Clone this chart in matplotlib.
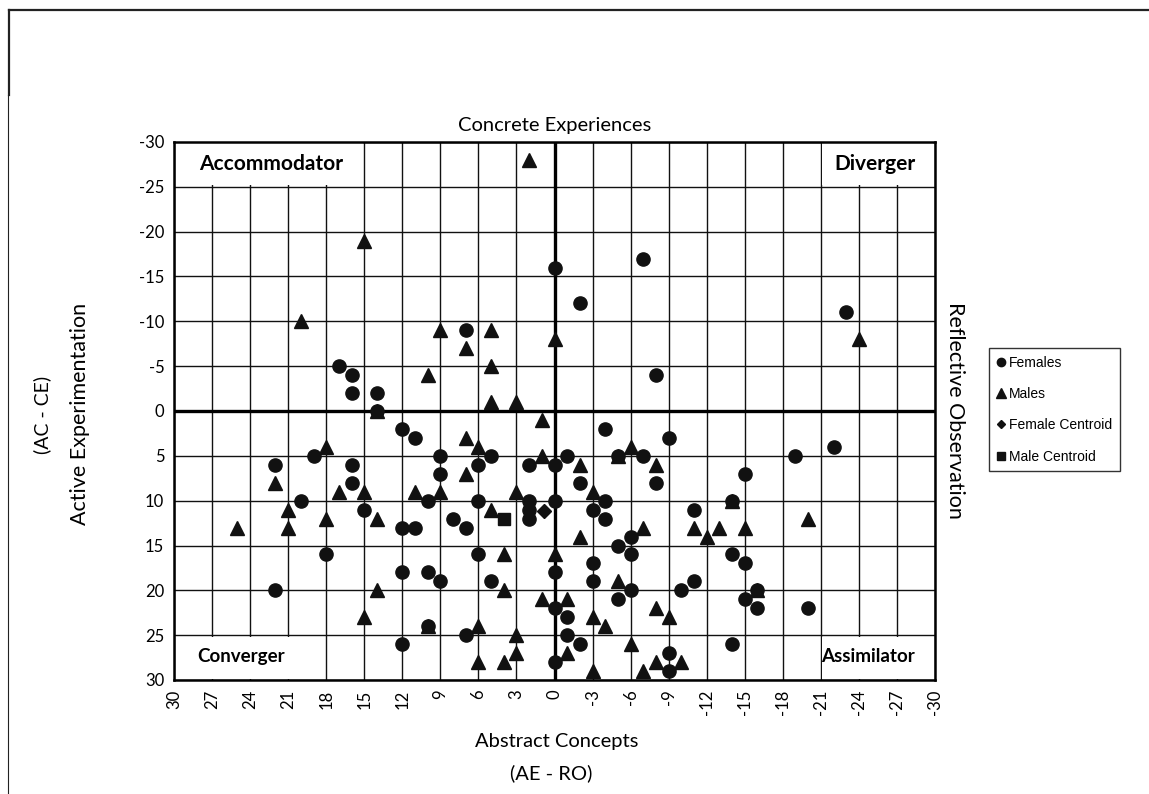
import matplotlib
matplotlib.use("Agg")
import matplotlib.pyplot as plt
from matplotlib.patches import Rectangle
from matplotlib.lines import Line2D

# Females (AE-RO, AC-CE)
female_x = [0, -7, -2, -23, 7, -8, 17, 16, 16, 14, 14, 12, 11, 5, 6, 9, 9, 19, 22, 16,
            16, 20, 15, 18, 22, 10, 12, 11, 8, 7, 6, 2, 0, 2, 2, 2, 0, 6, 12, 10,
            9, 5, 0, 0, 10, 7, 12, 0, -4, -9, -1, -2, -7, -8, -19, -22, -15, -4, -3, -4,
            -14, -11, -6, -5, -6, -3, -3, -14, -15, -10, -11, -6, -5, -1, -1, -2, -9, -9, -15, -16,
            -16, -20, -14, -5]
female_y = [-16, -17, -12, -11, -9, -4, -5, -4, -2, -2, 0, 2, 3, 5, 6, 5, 7, 5, 6, 6,
            8, 10, 11, 16, 20, 10, 13, 13, 12, 13, 10, 6, 6, 10, 11, 12, 10, 16, 18, 18,
            19, 19, 22, 18, 24, 25, 26, 28, 2, 3, 5, 8, 5, 8, 5, 4, 7, 10, 11, 12,
            10, 11, 14, 15, 16, 17, 19, 16, 17, 20, 19, 20, 21, 23, 25, 26, 27, 29, 21, 22,
            20, 22, 26, 5]

# Males
male_x = [2, 15, 20, 9, 5, 7, 0, 5, 10, 5, 3, 1, 14, 7, 6, 7, 18, 22, 17, 15,
          21, 21, 25, 18, 14, 15, 14, 11, 9, 5, 3, 1, 4, 4, 1, 0, 10, 6, 3, 3,
          4, 6, -24, -2, -5, -6, -8, -3, -14, -11, -13, -12, -15, -20, -2, -7, -5, -1, -3, -4,
          -1, -3, -6, -7, -8, -9, -8, -10, -16]
male_y = [-28, -19, -10, -9, -9, -7, -8, -5, -4, -1, -1, 1, 0, 3, 4, 7, 4, 8, 9, 9,
          11, 13, 13, 12, 12, 23, 20, 9, 9, 11, 9, 5, 16, 20, 21, 16, 24, 24, 25, 27,
          28, 28, -8, 6, 5, 4, 6, 9, 10, 13, 13, 14, 13, 12, 14, 13, 19, 21, 23, 24,
          27, 29, 26, 29, 22, 23, 28, 28, 20]

female_centroid_x = [0.8]
female_centroid_y = [11.2]
male_centroid_x = [4.0]
male_centroid_y = [12.0]

x_ticks = list(range(30, -31, -3))
y_ticks = list(range(-30, 31, 5))

plt.rcParams['font.family'] = ['Lato', 'DejaVu Sans']
plt.rcParams['axes.unicode_minus'] = False

W, H = 1149, 794
fig = plt.figure(figsize=(W / 100, H / 100), dpi=100)
ax = fig.add_axes([174 / W, 1 - 680 / H, 761 / W, 538 / H])
ax.set_xlim(30, -30)
ax.set_ylim(30, -30)
ax.set_xticks(x_ticks)
ax.set_yticks(y_ticks)
ax.set_xticklabels([str(v) for v in x_ticks], rotation=90)
ax.tick_params(length=0, labelsize=12, pad=7)
ax.grid(True, color='#111111', linewidth=1.0)
ax.set_axisbelow(True)
for s in ax.spines.values():
    s.set_linewidth(1.8)
ax.axhline(0, color='black', lw=2.4, zorder=1.5)
ax.axvline(0, color='black', lw=2.4, zorder=1.5)

# white boxes behind the quadrant names
for x0, x1, y0, y1 in [(30, 15, -30, -25), (-21, -30, -30, -25),
                       (30, 18, 25, 30), (-21, -30, 25, 30)]:
    lo, hi = min(x0, x1), max(x0, x1)
    ax.add_patch(Rectangle((lo + 0.12, y0 + 0.15), hi - lo - 0.24, y1 - y0 - 0.3,
                           facecolor='white', edgecolor='none', zorder=1))

ax.text(28.0, -27.5, 'Accommodator', fontsize=15, fontweight='bold', va='center', zorder=3)
ax.text(-22.1, -27.5, 'Diverger', fontsize=15, fontweight='bold', va='center', zorder=3)
ax.text(28.2, 27.4, 'Converger', fontsize=13.5, fontweight='bold', va='center', zorder=3)
ax.text(-21.0, 27.4, 'Assimilator', fontsize=13.5, fontweight='bold', va='center', zorder=3)

ax.plot(female_x, female_y, 'o', color='#111111', ms=9.5, ls='none', zorder=4)
ax.plot(male_x, male_y, '^', color='#111111', ms=10, ls='none', zorder=4)
ax.plot(female_centroid_x, female_centroid_y, 'D', color='#111111', ms=7, ls='none', zorder=5)
ax.plot(male_centroid_x, male_centroid_y, 's', color='#111111', ms=8, ls='none', zorder=5)

fig.text(555 / W, 1 - 126 / H, 'Concrete Experiences', fontsize=14.5, ha='center', va='center')
fig.text(557 / W, 1 - 741 / H, 'Abstract Concepts', fontsize=14.5, ha='center', va='center')
fig.text(551 / W, 1 - 773 / H, '(AE - RO)', fontsize=14.5, ha='center', va='center')
fig.text(80 / W, 1 - 414 / H, 'Active Experimentation', fontsize=15.5, rotation=90,
         ha='center', va='center')
fig.text(42 / W, 1 - 415 / H, '(AC - CE)', fontsize=14, rotation=90, ha='center', va='center')
fig.text(955 / W, 1 - 410 / H, 'Reflective Observation', fontsize=15.5, rotation=270,
         ha='center', va='center')

handles = [
    Line2D([], [], marker='o', color='#111111', ls='none', ms=6),
    Line2D([], [], marker='^', color='#111111', ls='none', ms=6.5),
    Line2D([], [], marker='D', color='#111111', ls='none', ms=4.5),
    Line2D([], [], marker='s', color='#111111', ls='none', ms=5.5),
]
labels = ['Females', 'Males', 'Female Centroid', 'Male Centroid']
leg = fig.legend(handles, labels, loc='upper left', bbox_to_anchor=(989 / W, 1 - 348 / H),
                 frameon=True, fancybox=False, edgecolor='black',
                 prop={'family': 'Liberation Sans', 'size': 10},
                 labelspacing=1.25, handlelength=0.6, handletextpad=0.3, borderpad=0.55,
                 borderaxespad=0)
leg.get_frame().set_linewidth(1.0)

# page border fragments
fig.add_artist(Line2D([9 / W, 1], [1 - 10 / H, 1 - 10 / H], color='#222222', lw=1.6))
fig.add_artist(Line2D([9 / W, 9 / W], [1 - 10 / H, 1 - 95 / H], color='#222222', lw=1.6))
fig.add_artist(Line2D([8 / W, 8 / W], [1 - 95 / H, 0], color='#222222', lw=0.8))

fig.savefig('out.png', dpi=100)
